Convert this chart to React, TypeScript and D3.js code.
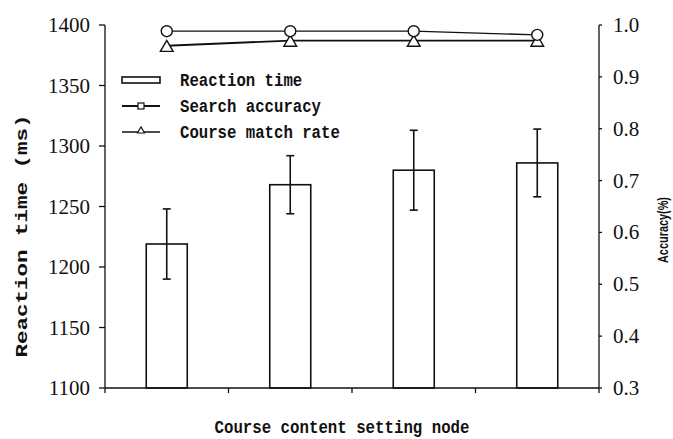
import React from "react";
import * as d3 from "d3";

const width = 673;
const height = 439;
const plot = { left: 105, right: 599, top: 25, bottom: 388 };

const nodes = ["Node 1", "Node 2", "Node 3", "Node 4"];
const reactionTime = [1219, 1268, 1280, 1286];
const reactionErr = [29, 24, 33, 28];
const searchAccuracy = [0.988, 0.988, 0.988, 0.981];
const matchRate = [0.96, 0.97, 0.97, 0.97];
const leftTicks = [1100, 1150, 1200, 1250, 1300, 1350, 1400];
const rightTicks = [0.3, 0.4, 0.5, 0.6, 0.7, 0.8, 0.9, 1.0];

const monoFont = "'Liberation Mono', 'DejaVu Sans Mono', monospace";
const serifFont = "'Times New Roman', 'Liberation Serif', 'DejaVu Serif', serif";

export default function App() {
  const x = d3
    .scaleBand()
    .domain(nodes)
    .range([plot.left, plot.right])
    .paddingInner(0.668)
    .paddingOuter(0.334);
  const yL = d3.scaleLinear().domain([1100, 1400]).range([plot.bottom, plot.top]);
  const yR = d3.scaleLinear().domain([0.3, 1.0]).range([plot.bottom, plot.top]);
  const cx = (n: string) => (x(n) as number) + x.bandwidth() / 2;

  const lineAcc = d3
    .line<number>()
    .x((d, i) => cx(nodes[i]))
    .y((d) => yR(d));

  const tri = d3.symbol().type(d3.symbolTriangle).size(70)();
  const triSmall = d3.symbol().type(d3.symbolTriangle).size(22)();

  // x tick positions at band boundaries
  const xTicks = nodes.map((n) => (x(n) as number) - (x.step() * x.paddingInner()) / 2);
  xTicks[0] = plot.left;
  xTicks.push(plot.right);

  const legendRows = ["Reaction time", "Search accuracy", "Course match rate"];
  const legendY = d3.scalePoint().domain(legendRows).range([80, 132]);

  return (
    <svg width={width} height={height} style={{ position: "absolute", left: 0, top: 0, background: "#fff" }}>
      {/* bars */}
      {nodes.map((n, i) => (
        <rect
          key={n}
          x={x(n)}
          y={yL(reactionTime[i])}
          width={x.bandwidth()}
          height={plot.bottom - yL(reactionTime[i])}
          fill="#fff"
          stroke="#111"
          strokeWidth={1.6}
        />
      ))}
      {/* error bars */}
      {nodes.map((n, i) => {
        const c = cx(n);
        const t = yL(reactionTime[i] + reactionErr[i]);
        const b = yL(reactionTime[i] - reactionErr[i]);
        return (
          <g key={n} stroke="#111" strokeWidth={1.6}>
            <line x1={c} x2={c} y1={t} y2={b} />
            <line x1={c - 4} x2={c + 4} y1={t} y2={t} />
            <line x1={c - 4} x2={c + 4} y1={b} y2={b} />
          </g>
        );
      })}

      {/* accuracy lines */}
      <path d={lineAcc(matchRate) as string} fill="none" stroke="#111" strokeWidth={1.8} />
      <path d={lineAcc(searchAccuracy) as string} fill="none" stroke="#111" strokeWidth={1.3} />
      {matchRate.map((v, i) => (
        <path key={i} d={tri as string} transform={`translate(${cx(nodes[i])},${yR(v) + 2})`} fill="#fff" stroke="#111" strokeWidth={1.4} />
      ))}
      {searchAccuracy.map((v, i) => (
        <circle key={i} cx={cx(nodes[i])} cy={yR(v)} r={5.5} fill="#fff" stroke="#111" strokeWidth={1.4} />
      ))}

      {/* axes */}
      <g stroke="#111" strokeWidth={1.3}>
        <line x1={plot.left} x2={plot.left} y1={plot.top} y2={plot.bottom} />
        <line x1={plot.right} x2={plot.right} y1={plot.top} y2={plot.bottom} />
        <line x1={plot.left} x2={plot.right} y1={plot.bottom} y2={plot.bottom} />
        {leftTicks.map((t) => (
          <line key={t} x1={plot.left - 6} x2={plot.left} y1={yL(t)} y2={yL(t)} />
        ))}
        {rightTicks.map((t) => (
          <line key={t} x1={plot.right} x2={plot.right + 3} y1={yR(t)} y2={yR(t)} />
        ))}
        {xTicks.map((t, i) => (
          <line key={i} x1={t} x2={t} y1={plot.bottom} y2={plot.bottom + 5} />
        ))}
      </g>
      {leftTicks.map((t) => (
        <text key={t} x={90} y={yL(t) + 7} textAnchor="end" fontFamily={serifFont} fontSize={21} fill="#111">
          {t}
        </text>
      ))}
      {rightTicks.map((t) => (
        <text key={t} x={613} y={yR(t) + 7} fontFamily={serifFont} fontSize={21} fill="#111">
          {d3.format(".1f")(t)}
        </text>
      ))}

      {/* axis titles */}
      <text
        transform={`translate(27,236) rotate(-90)`}
        textAnchor="middle"
        fontFamily={monoFont}
        fontWeight="bold"
        fontSize={16}
        textLength={243}
        lengthAdjust="spacingAndGlyphs"
        fill="#111"
      >
        Reaction time (ms)
      </text>
      <text
        transform={`translate(668,230) rotate(-90)`}
        textAnchor="middle"
        fontFamily="'Liberation Sans', Arial, sans-serif"
        fontWeight="bold"
        fontSize={15}
        textLength={66}
        lengthAdjust="spacingAndGlyphs"
        fill="#111"
      >
        Accuracy(%)
      </text>
      <text
        x={342}
        y={433}
        textAnchor="middle"
        fontFamily={monoFont}
        fontWeight="bold"
        fontSize={18}
        textLength={255}
        lengthAdjust="spacingAndGlyphs"
        fill="#111"
      >
        Course content setting node
      </text>

      {/* legend */}
      <g>
        <rect x={122} y={(legendY(legendRows[0]) as number) - 3} width={38} height={6} fill="#fff" stroke="#111" strokeWidth={1.6} />
        <line x1={122} x2={160} y1={legendY(legendRows[1])} y2={legendY(legendRows[1])} stroke="#111" strokeWidth={2} />
        <rect x={138} y={(legendY(legendRows[1]) as number) - 3} width={6} height={6} fill="#fff" stroke="#111" strokeWidth={1.2} />
        <line x1={122} x2={160} y1={legendY(legendRows[2])} y2={legendY(legendRows[2])} stroke="#111" strokeWidth={1.3} />
        <path d={triSmall as string} transform={`translate(141,${(legendY(legendRows[2]) as number) - 1})`} fill="#fff" stroke="#111" strokeWidth={1.1} />
        {legendRows.map((r) => (
          <text
            key={r}
            x={180}
            y={(legendY(r) as number) + 6}
            fontFamily={monoFont}
            fontWeight="bold"
            fontSize={18}
            textLength={r.length * 9.4}
            lengthAdjust="spacingAndGlyphs"
            fill="#111"
          >
            {r}
          </text>
        ))}
      </g>
    </svg>
  );
}
